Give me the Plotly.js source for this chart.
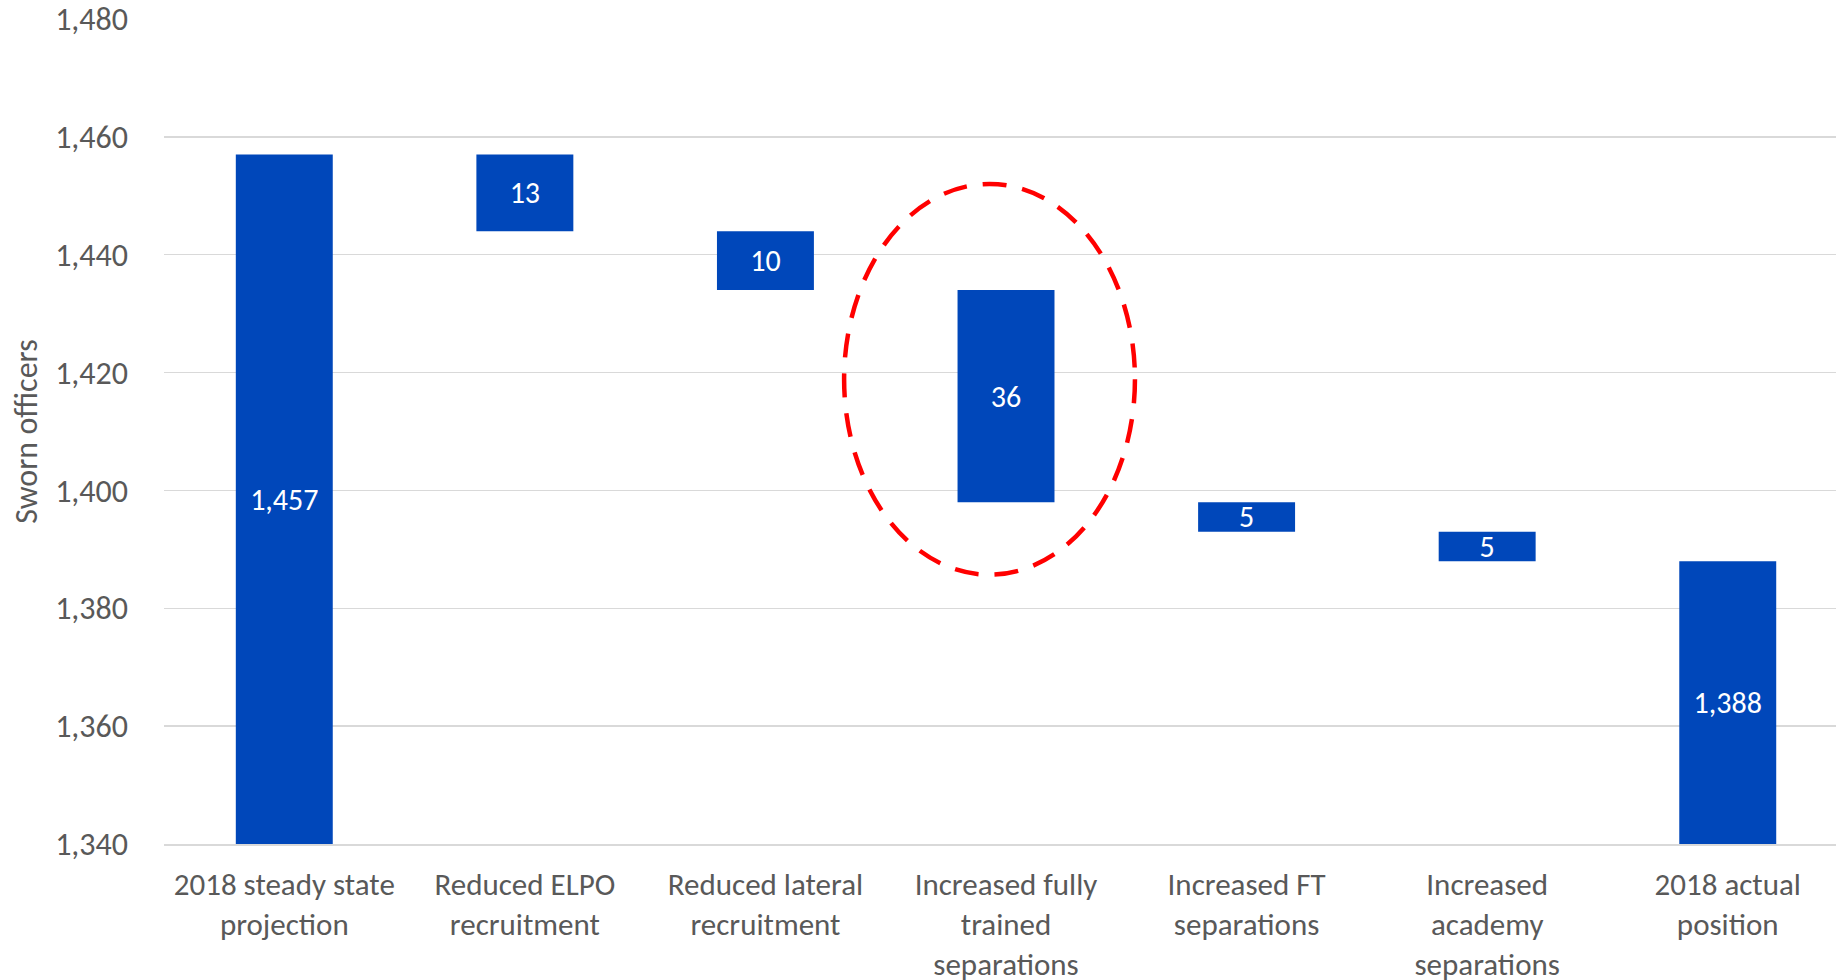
<!DOCTYPE html>
<html>
<head>
<meta charset="utf-8">
<script src="https://cdn.plot.ly/plotly-3.0.1.min.js"></script>
<style>
html,body{margin:0;padding:0;background:#fff;}
#chart{width:1836px;height:980px;}
</style>
</head>
<body>
<div id="chart"></div>
<script>
// Data
const categories = [
  "2018 steady state<br>projection",
  "Reduced ELPO<br>recruitment",
  "Reduced lateral<br>recruitment",
  "Increased fully<br>trained<br>separations",
  "Increased FT<br>separations",
  "Increased<br>academy<br>separations",
  "2018 actual<br>position"
];
const measures = ["absolute","relative","relative","relative","relative","relative","total"];
const values = [1457, -13, -10, -36, -5, -5, 1388];
const yTickVals = [1340, 1360, 1380, 1400, 1420, 1440, 1460, 1480];
const yRange = [1340, 1480];

// Build floating bars (Excel-style waterfall starting at axis minimum)
const bases = [], heights = [], labels = [];
let running = 0;
values.forEach((v, i) => {
  const m = measures[i];
  if (m === "absolute") {
    running = v;
    bases.push(yRange[0]); heights.push(v - yRange[0]);
    labels.push(v.toLocaleString('en-US'));
  } else if (m === "relative") {
    const next = running + v;
    bases.push(Math.min(running, next)); heights.push(Math.abs(v));
    labels.push(Math.abs(v).toLocaleString('en-US'));
    running = next;
  } else {
    bases.push(yRange[0]); heights.push(v - yRange[0]);
    labels.push(v.toLocaleString('en-US'));
  }
});

const FONT = "Carlito, Lato, 'Noto Sans', sans-serif";
const BLUE = "#0047BA";
const GREY = "#595959";

const trace = {
  type: "bar",
  x: categories,
  y: heights,
  base: bases,
  text: labels,
  textposition: "inside",
  insidetextanchor: "middle",
  textangle: 0,
  constraintext: "none",
  cliponaxis: false,
  textfont: {family: FONT, size: 30, color: "#ffffff"},
  marker: {color: BLUE, line: {width: 0}},
  width: 0.403,
  hoverinfo: "x+text"
};

const layout = {
  width: 1836,
  height: 980,
  margin: {l: 164, r: 0, t: 19.3, b: 136.3, pad: 0},
  paper_bgcolor: "#ffffff",
  plot_bgcolor: "#ffffff",
  showlegend: false,
  font: {family: FONT, color: GREY, size: 31},
  xaxis: {
    type: "category",
    range: [-0.5, 6.45],
    showgrid: false,
    showline: true,
    linecolor: "#D9D9D9",
    linewidth: 1.5,
    ticks: "",
    ticklabelstandoff: 12,
    tickfont: {family: FONT, size: 31, color: GREY},
    automargin: false,
    fixedrange: true
  },
  yaxis: {
    range: yRange,
    tickvals: yTickVals,
    tickformat: ",",
    showgrid: true,
    gridcolor: "#D9D9D9",
    gridwidth: 1.5,
    zeroline: false,
    showline: false,
    ticks: "",
    ticklabelstandoff: 35,
    tickfont: {family: FONT, size: 32, color: GREY},
    title: {text: "Sworn officers", font: {family: FONT, size: 32, color: GREY}, standoff: 7},
    automargin: false,
    fixedrange: true
  },
  shapes: [{
    type: "circle",
    xref: "x", yref: "y",
    x0: 2.327, x1: 3.536,
    y0: 1385.7, y1: 1452.0,
    line: {color: "#FF0000", width: 4.5, dash: "24px,16px"},
    fillcolor: "rgba(0,0,0,0)",
    layer: "above"
  }]
};

Plotly.newPlot("chart", [trace], layout, {displayModeBar: false, staticPlot: true});
</script>
</body>
</html>
